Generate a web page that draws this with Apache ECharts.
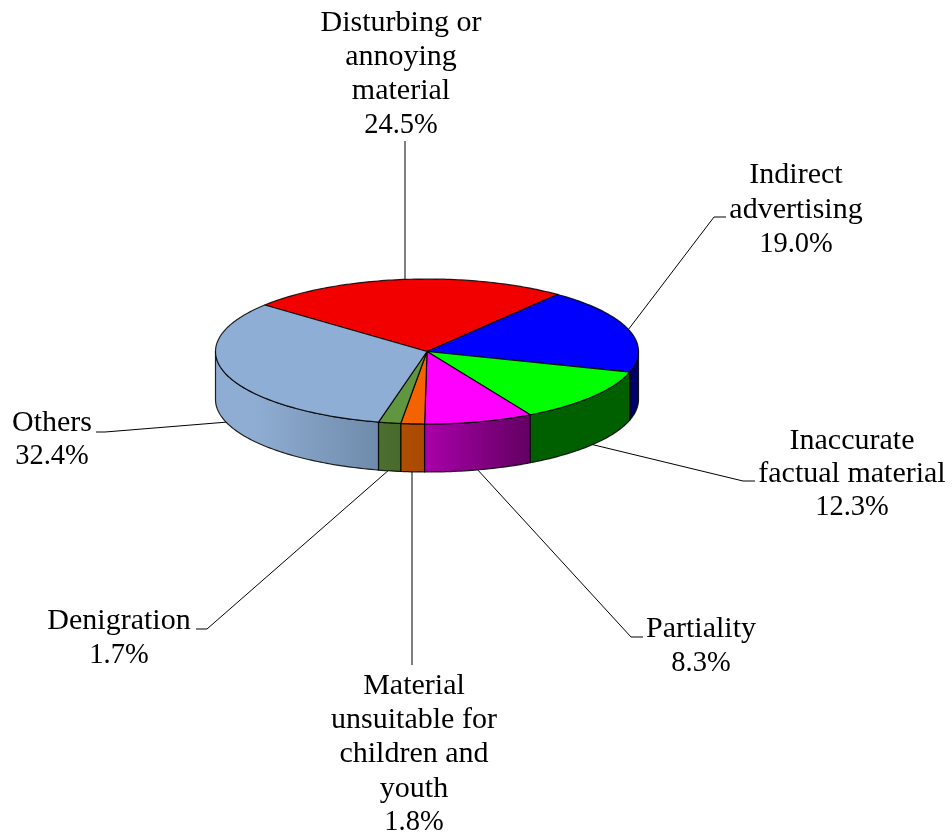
<!DOCTYPE html>
<html><head><meta charset="utf-8">
<style>html,body{margin:0;padding:0;background:#fff}#c{width:952px;height:840px}</style>
<script src="https://cdn.jsdelivr.net/npm/echarts@6/dist/echarts.min.js"></script>
</head><body><div id="c"></div>
<script>
// data
const categories = ['Disturbing or annoying material','Indirect advertising','Inaccurate factual material','Partiality','Material unsuitable for children and youth','Denigration','Others'];
const values = [24.5,19.0,12.3,8.3,1.8,1.7,32.4];
const labelLines = [
  ['Disturbing or','annoying','material','24.5%'],
  ['Indirect','advertising','19.0%'],
  ['Inaccurate','factual material','12.3%'],
  ['Partiality','8.3%'],
  ['Material','unsuitable for','children and','youth','1.8%'],
  ['Denigration','1.7%'],
  ['Others','32.4%']
];
// styles
const topColors = ['#F20000','#0000FF','#00FF00','#FF00FF','#F56200','#619640','#8FAED6'];
const wallColors = [
  ['#900000','#900000'],['#00006A','#00006A'],['#006000','#006000'],
  ['#AA00AA','#620062'],['#B04E00','#A84A00'],['#4C7030','#486A2C'],['#8FADD2','#6F8BAB']
];
// layout
const geo = {cx:427, cy:351.5, rx:211.5, ry:72.5, depth:48, start:-50.1};
const labelLayout = [
  {x:401,y:[23,57,91,126]},
  {x:796,y:[175,210,245]},
  {x:852,y:[441,474,508]},
  {x:701,y:[629,664]},
  {x:414,y:[686,720,754,789,823]},
  {x:119,y:[621,656]},
  {x:52,y:[423,457]}
];
const leaders = [
  [[405,141],[405,282]],
  [[628,330],[714,217],[726,217]],
  [[590,444],[743,481],[755,481]],
  [[476,468],[631,637],[643,637]],
  [[412,470],[412,665]],
  [[390,469],[207,629],[196,629]],
  [[228,422],[105,432],[96,432]]
];
const total = values.reduce((a,b)=>a+b,0);
let acc = 0;
const spans = values.map(v=>{const a0=geo.start+acc/total*360; acc+=v; return [a0,geo.start+acc/total*360];});
const pt=(deg,dz)=>{const r=deg*Math.PI/180;return [geo.cx+geo.rx*Math.sin(r),geo.cy-geo.ry*Math.cos(r)+(dz||0)];};
const arc=(a0,a1,dz)=>{const out=[];const n=Math.max(2,Math.ceil(Math.abs(a1-a0)));for(let i=0;i<=n;i++)out.push(pt(a0+(a1-a0)*i/n,dz));return out;};
const data = values.map((v,i)=>({name:categories[i],value:v}));
const edge = {stroke:'rgba(0,0,0,0.85)',lineWidth:1.2,lineJoin:'round'};

const option = {
  animation:false, backgroundColor:'#fff',
  series:[
    {type:'custom',coordinateSystem:'none',z:1,silent:true,data,
     renderItem(p,api){const i=p.dataIndex;
       const ch=[{type:'polyline',shape:{points:leaders[i]},style:{stroke:'#000',lineWidth:1,fill:null}}];
       labelLines[i].forEach((t,k)=>ch.push({type:'text',style:{text:t,x:labelLayout[i].x,y:labelLayout[i].y[k],
         align:'center',verticalAlign:'middle',font:(t.endsWith('%')?'28.5px':'30px')+' "Liberation Serif"',fill:'#000'}}));
       return {type:'group',children:ch};}},
    {type:'custom',coordinateSystem:'none',z:2,silent:true,data,
     renderItem(p,api){const i=p.dataIndex;
       // the wall is visible on the front half only: 90 to 270 degrees
       const a0=Math.max(spans[i][0],90),a1=Math.min(spans[i][1],270);
       if(a1<=a0) return {type:'group',children:[]};
       const pts=arc(a0,a1,0).concat(arc(a1,a0,geo.depth));
       return {type:'polygon',shape:{points:pts},style:Object.assign({},edge,{
         fill:{type:'linear',x:0,y:0,x2:1,y2:0,colorStops:[
           {offset:0,color:wallColors[i][0]},
           {offset:i===6?0.25:0,color:wallColors[i][0]},
           {offset:1,color:wallColors[i][1]}]}})};}},
    {type:'custom',coordinateSystem:'none',z:3,silent:true,data,
     renderItem(p,api){const i=p.dataIndex;
       const pts=[[geo.cx,geo.cy]].concat(arc(spans[i][0],spans[i][1],0));
       return {type:'polygon',shape:{points:pts},style:Object.assign({},edge,{fill:topColors[i]})};}}
  ]
};
const chart = echarts.init(document.getElementById('c'));
chart.setOption(option);
</script></body></html>
